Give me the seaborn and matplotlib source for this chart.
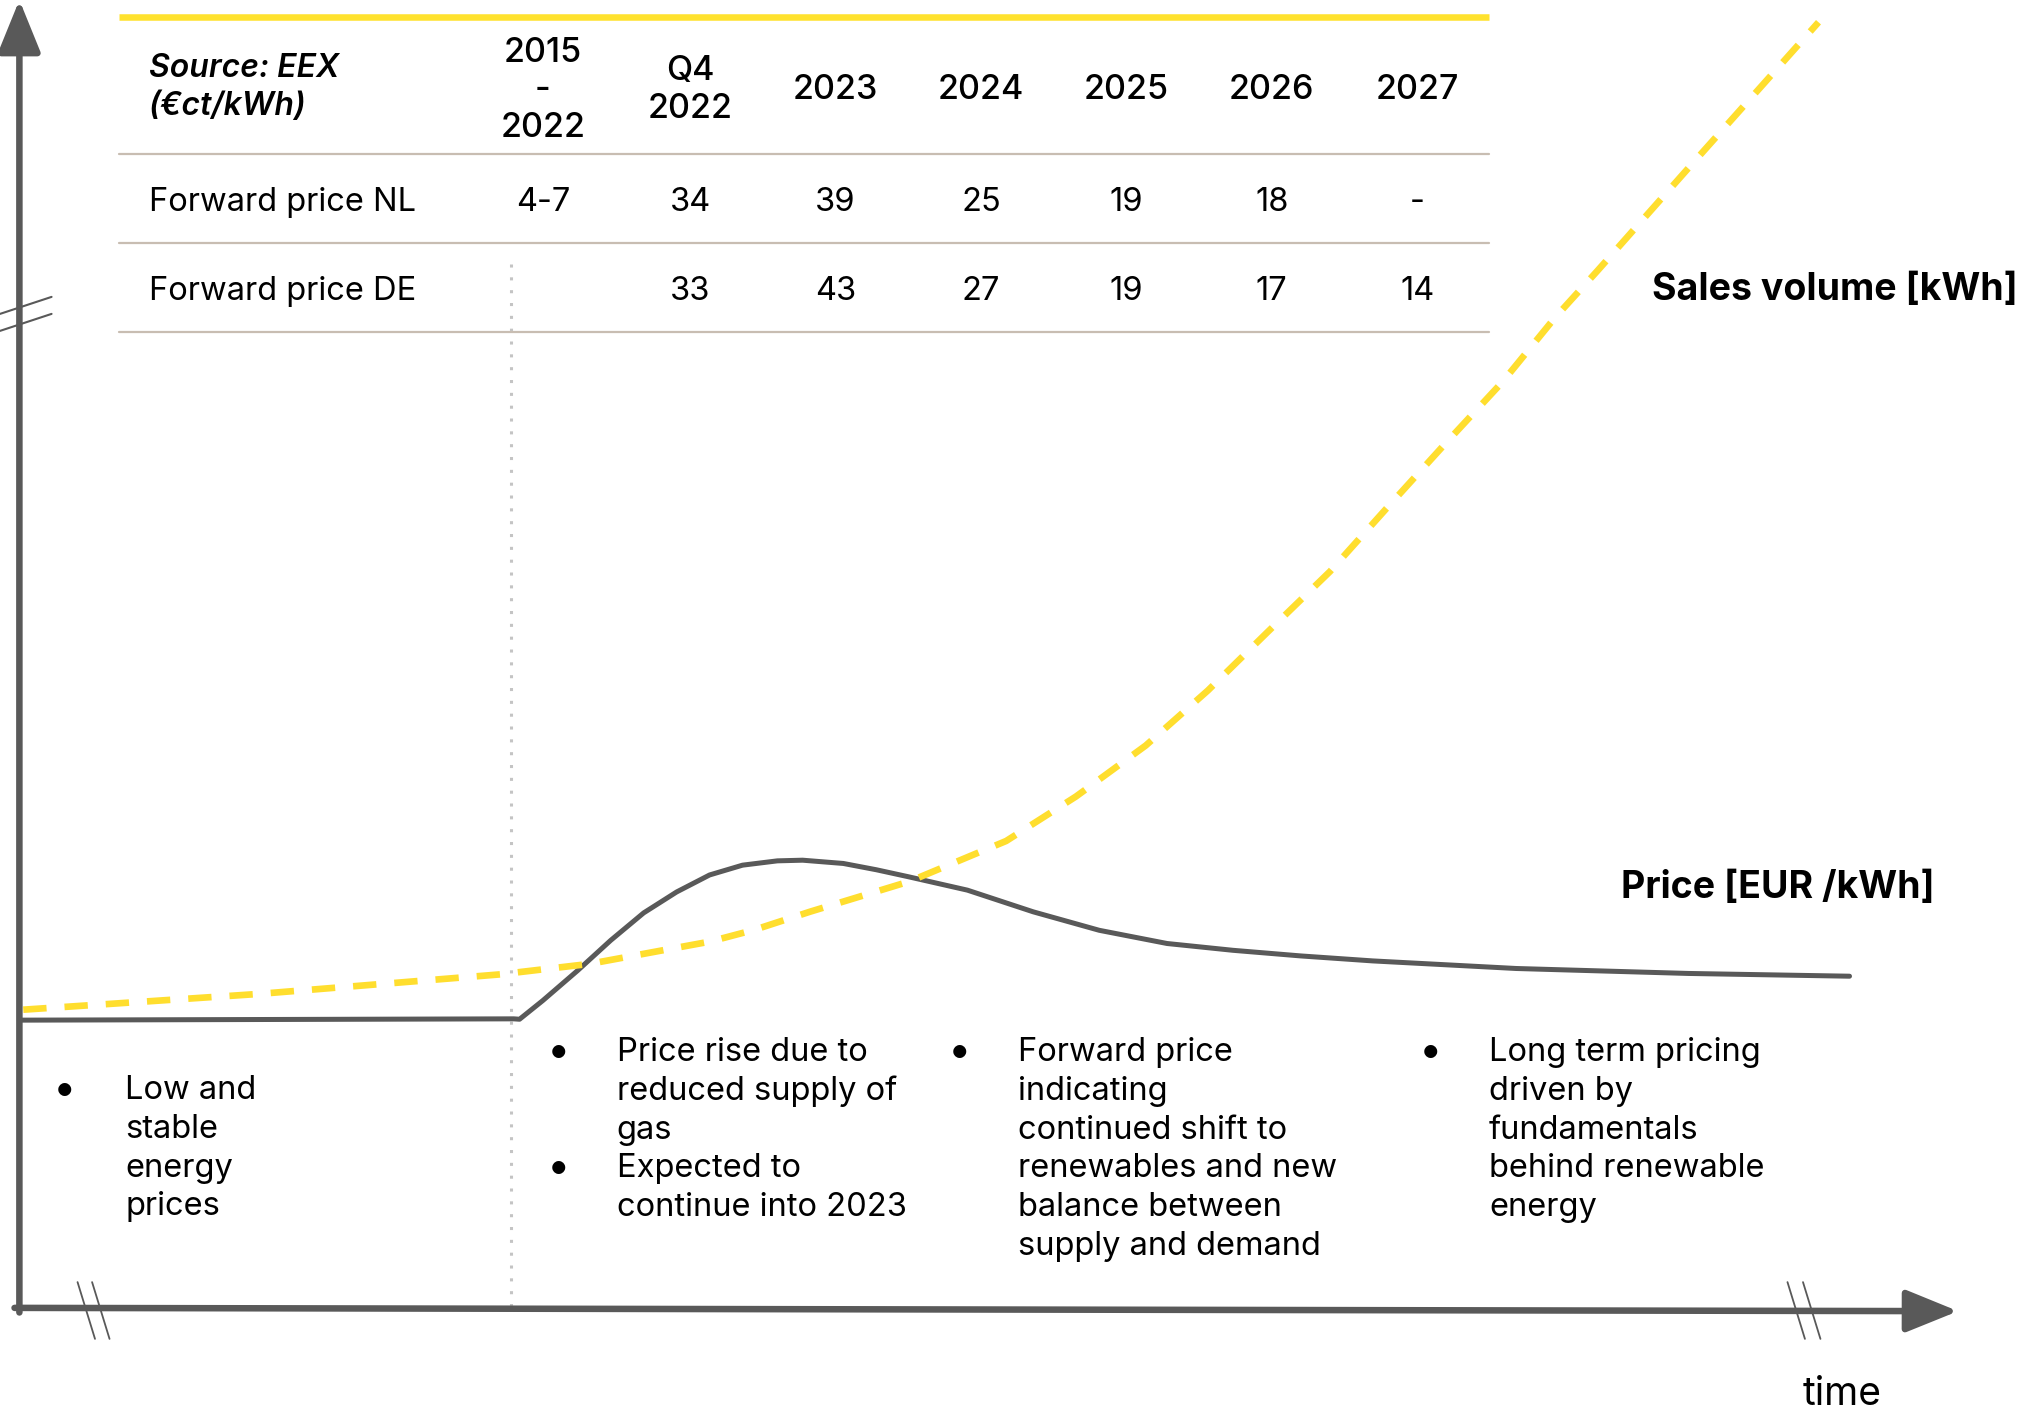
import matplotlib.pyplot as plt
import seaborn as sns

# Table contents (Source: EEX, ct/kWh)
col_headers = ["2015\n-\n2022", "Q4\n2022", "2023", "2024", "2025", "2026", "2027"]
row_labels = ["Forward price NL", "Forward price DE"]
price_nl = ["4-7", "34", "39", "25", "19", "18", "-"]
price_de = ["", "33", "43", "27", "19", "17", "14"]

# Conceptual curves, time and value on a 0-100 scale
price_time = [0, 25.5, 25.8, 27.0, 28.8, 30.5, 32.2, 33.9, 35.6, 37.3, 39.1, 40.4,
              42.5, 44.2, 45.9, 48.9, 52.3, 55.7, 59.2, 62.6, 66.1, 69.8, 77.2, 86.1, 94.4]
price_value = [22.0, 22.1, 22.07, 23.5, 25.8, 28.1, 30.2, 31.8, 33.1, 33.85, 34.18, 34.23,
               33.98, 33.5, 32.95, 31.94, 30.28, 28.87, 27.86, 27.34, 26.91, 26.53, 25.95,
               25.57, 25.36]
sales_time = [0.2, 12.3, 24.8, 29.4, 33.4, 35.6, 37.9, 40.8, 45.9, 50.9, 54.5, 58.1,
              61.3, 64.4, 67.6, 70.5, 73.5, 76.5, 79.2, 81.4, 86.3, 92.8]
sales_value = [22.8, 24.0, 25.5, 26.3, 27.4, 28.0, 28.9, 30.3, 32.6, 35.7, 39.1, 43.0,
               47.2, 51.7, 56.3, 61.1, 66.0, 70.8, 75.7, 79.3, 87.5, 98.3]

# Phase descriptions below the curves
phase_notes = [
    ["Low and\nstable\nenergy\nprices"],
    ["Price rise due to\nreduced supply of\ngas", "Expected to\ncontinue into 2023"],
    ["Forward price\nindicating\ncontinued shift to\nrenewables and new\nbalance between\nsupply and demand"],
    ["Long term pricing\ndriven by\nfundamentals\nbehind renewable\nenergy"],
]

sns.set_style("white")
plt.rcParams['font.family'] = ['Inter', 'DejaVu Sans']
plt.rcParams['text.color'] = 'black'

GREY = '#595959'
YELLOW = '#FFDE2E'
TAN = '#C8BDB2'

fig = plt.figure(figsize=(20.24, 14.15), dpi=100)
ax = fig.add_axes([0, 0, 1, 1])
ax.set_xlim(-1.0, 103.4)
ax.set_ylim(-8.19, 100)
ax.axis('off')

# axes with arrows
ax.annotate('', xy=(0, 100), xytext=(0, -0.35),
            arrowprops=dict(arrowstyle='-|>,head_length=1.6,head_width=0.65',
                            lw=4.7, color=GREY, shrinkA=0, shrinkB=0, mutation_scale=20))
ax.annotate('', xy=(100, -0.25), xytext=(-0.25, 0),
            arrowprops=dict(arrowstyle='-|>,head_length=1.6,head_width=0.65',
                            lw=4.7, color=GREY, shrinkA=0, shrinkB=0, mutation_scale=20))

# axis break marks
for dy in [0, -1.3]:
    ax.plot([-1.0, 1.66], [76.0 + dy, 77.3 + dy], color=GREY, lw=1.5)
for x0 in [3.0, 3.75, 91.2, 92.0]:
    ax.plot([x0, x0 + 0.9], [1.97, -2.37], color=GREY, lw=1.3)

# dotted divider
ax.plot([25.37, 25.37], [79.8, 0], color='#C4C4C4', lw=2.2, linestyle=(0, (1, 3.2)))

# curves
sns.lineplot(x=price_time, y=price_value, ax=ax, color=GREY, lw=3.6,
             estimator=None, sort=False)
sns.lineplot(x=sales_time, y=sales_value, ax=ax, color=YELLOW, lw=4.8,
             estimator=None, sort=False, linestyle=(0, (3.5, 2.7)))

ax.text(84.2, 77.85, "Sales volume [kWh]", fontsize=27, fontweight='bold', va='center', ha='left')
ax.text(82.6, 32.1, "Price [EUR /kWh]", fontsize=27, fontweight='bold', va='center', ha='left')
ax.text(92.0, -6.6, "time", fontsize=28, va='center', ha='left')

# table
tx0, tx1 = 5.13, 75.8
ax.plot([tx0, tx1], [98.7, 98.7], color='#FFE22E', lw=4.7, solid_capstyle='butt')
for yy in [88.2, 81.4, 74.6]:
    ax.plot([tx0, tx1], [yy, yy], color=TAN, lw=1.6)

col_x = [27.0, 34.6, 42.1, 49.6, 57.1, 64.6, 72.1]
ax.text(6.66, 93.3, "Source: EEX\n(€ct/kWh)", fontsize=23, fontstyle='italic',
        fontweight='semibold', va='center', ha='left', linespacing=1.28)
for cx, h in zip(col_x, col_headers):
    ax.text(cx, 93.1, h, fontsize=24.5, fontweight='medium', va='center', ha='center',
            linespacing=1.22)
for ry, label, vals in zip([84.55, 77.75], row_labels, [price_nl, price_de]):
    ax.text(6.66, ry, label, fontsize=23.5, va='center', ha='left')
    for cx, v in zip(col_x, vals):
        ax.text(cx, ry, v, fontsize=23.5, va='center', ha='center')

# bullet notes
line_h = 2.96
blocks = [(2.33, 5.46, 16.6), (27.8, 30.8, 19.5), (48.5, 51.5, 19.5), (72.8, 75.8, 19.5)]
for (bx, txx, y0), notes in zip(blocks, phase_notes):
    y = y0
    for note in notes:
        ax.text(bx, y, "\u2022", fontsize=30, va='center', ha='center')
        for line in note.split("\n"):
            ax.text(txx, y, line, fontsize=23.5, va='center', ha='left')
            y -= line_h

fig.savefig("out.png", dpi=100)
